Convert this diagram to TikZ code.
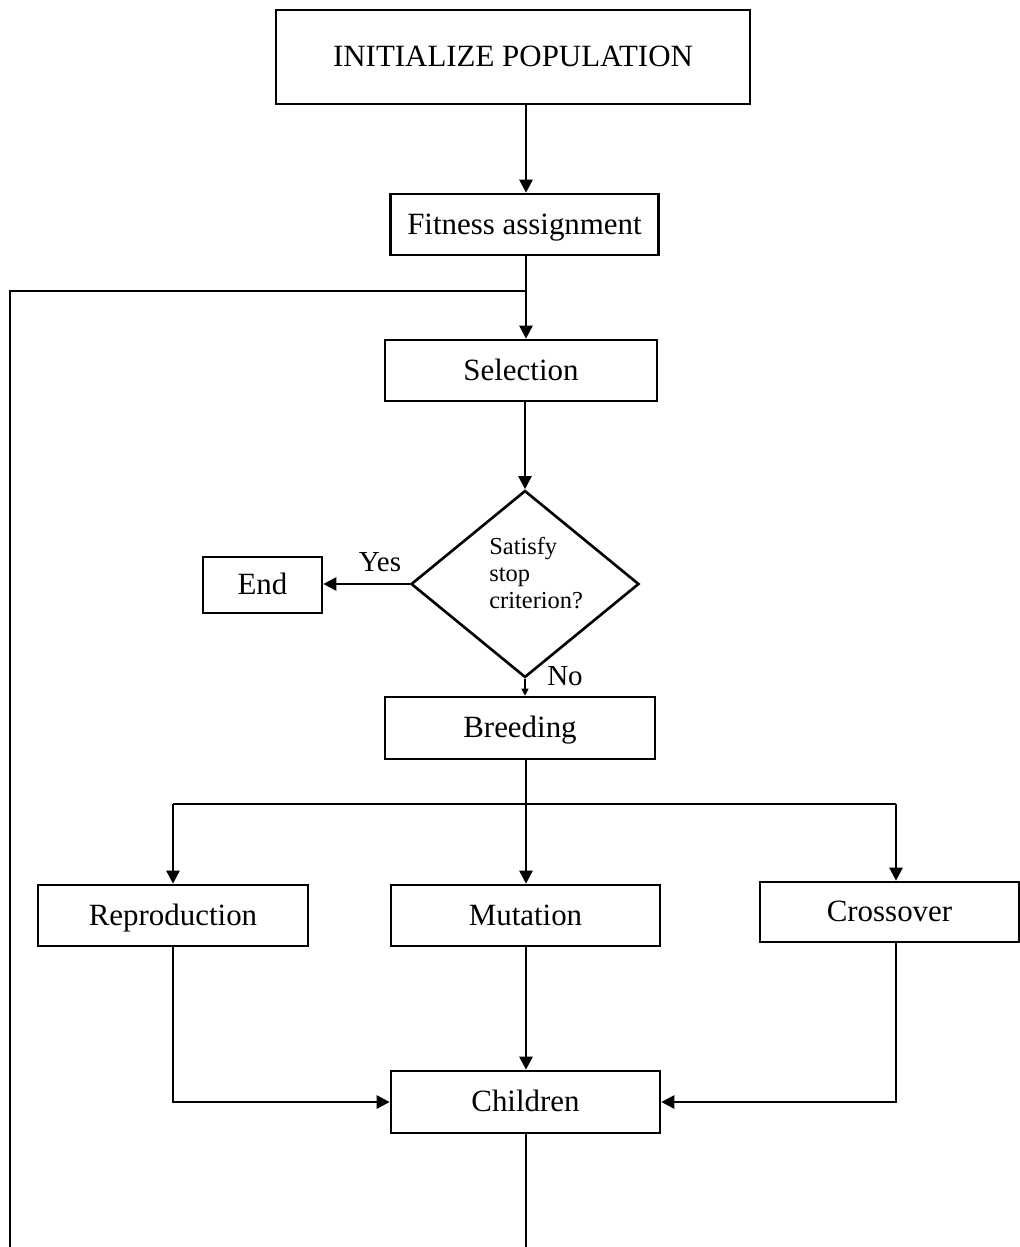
\documentclass[tikz,border=0pt]{standalone}
\usepackage{fontspec}
\setmainfont{Liberation Serif}
\usetikzlibrary{arrows.meta,shapes.geometric,calc}
\begin{document}
\begin{tikzpicture}[x=0.02cm,y=-0.02cm,
  box/.style={draw,line width=1.5pt,inner sep=0pt,text height=15pt,text depth=3.9pt,font=\fontsize{17.6}{20}\selectfont},
  conn/.style={line width=1.5pt},
  arr/.style={conn,-{Triangle[length=7.5pt,width=7.5pt]}},
  thinarr/.style={line width=0.6pt,-{Triangle[length=4pt,width=4pt]}},
  lbl/.style={inner sep=0pt,font=\fontsize{16.5}{19}\selectfont}
]
\fill[white] (0,0) rectangle (1019,1247);
\useasboundingbox (0,0) rectangle (1019,1247);

\coordinate (axis) at (526,0);

\node[box,minimum width=9.48cm,minimum height=1.88cm] (init) at (513,57) {INITIALIZE POPULATION};
\node[box,minimum width=5.36cm,minimum height=1.22cm] (fit) at (524.5,224.5) {Fitness assignment};
\node[box,minimum width=5.44cm,minimum height=1.22cm] (sel) at (521,370.5) {Selection};
\node[draw,diamond,line width=1.5pt,inner sep=0pt,minimum width=4.56cm,minimum height=3.74cm] (dec) at (525,584) {};
\node[inner sep=0pt,anchor=west,align=left,font=\fontsize{13.9}{15.4}\selectfont] (dtext) at (489,573) {Satisfy\\stop\\criterion?};
\node[box,minimum width=2.38cm,minimum height=1.12cm] (end) at (262.5,585) {End};
\node[lbl] (yes) at (380,562) {Yes};
\node[lbl] (no) at (565,676) {No};
\node[box,minimum width=5.40cm,minimum height=1.24cm] (breed) at (520,728) {Breeding};
\node[box,minimum width=5.40cm,minimum height=1.22cm] (rep) at (173,915.5) {Reproduction};
\node[box,minimum width=5.38cm,minimum height=1.22cm] (mut) at (525.5,915.5) {Mutation};
\node[box,minimum width=5.18cm,minimum height=1.20cm] (cross) at (889.5,912) {Crossover};
\node[box,minimum width=5.38cm,minimum height=1.24cm] (child) at (525.5,1102) {Children};

\coordinate (loop) at (526,291);
\coordinate (lefttop) at (10,291);
\coordinate (leftbot) at (10,1247);
\coordinate (split) at (526,804);
\coordinate (splitL) at (173,804);
\coordinate (splitR) at (896,804);
\coordinate (botend) at (526,1247);

\draw[arr] (init.south -| axis) -- (fit.north -| axis);
\draw[arr] (fit.south -| axis) -- (sel.north -| axis);
\draw[line width=1.3pt] (loop) -- (lefttop) -- (leftbot);
\draw[arr] (dec.north |- sel.south) -- (dec.north);
\draw[arr] (dec.west) -- (end.east |- dec.west);
\draw[thinarr] (dec.south) -- (breed.north -| dec.south);
\draw[conn] (breed.south -| axis) -- (split);
\draw[conn] (splitL) -- (splitR);
\draw[arr] (split) -- (mut.north -| axis);
\draw[arr] (splitL) -- (rep.north);
\draw[arr] (splitR) -- (cross.north -| splitR);
\draw[arr] (rep.south) |- (child.west);
\draw[arr] (cross.south -| splitR) |- (child.east);
\draw[arr] (mut.south -| axis) -- (child.north -| axis);
\draw[line width=1.1pt] (child.south -| axis) -- (botend);
\end{tikzpicture}
\end{document}
